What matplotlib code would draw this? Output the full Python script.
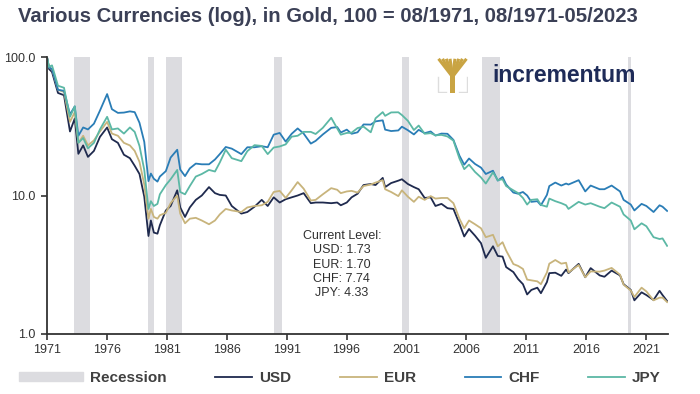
import matplotlib
matplotlib.use("Agg")
import matplotlib.pyplot as plt
from matplotlib.patches import Patch, Rectangle
from matplotlib.lines import Line2D
from matplotlib.legend_handler import HandlerPatch

plt.rcParams['font.family'] = ['Liberation Sans', 'DejaVu Sans']

# time axis in decimal years (08/1971 .. 05/2023)
years = [1971.58, 1971.75, 1972.0, 1972.5, 1973.0, 1973.5, 1973.9, 1974.2, 1974.6, 1975.0,
         1975.5, 1976.0, 1976.6, 1977.0, 1977.5, 1978.0, 1978.5, 1978.9, 1979.3, 1979.7,
         1980.05, 1980.25, 1980.5, 1980.8, 1981.0, 1981.5, 1981.9, 1982.45, 1982.7, 1983.1,
         1983.5, 1984.0, 1984.5, 1985.1, 1985.6, 1986.0, 1986.5, 1987.0, 1987.8, 1988.3,
         1988.9, 1989.5, 1990.0, 1990.5, 1991.0, 1991.5, 1992.0, 1992.5, 1993.0, 1993.6,
         1994.0, 1994.6, 1995.3, 1995.8, 1996.1, 1996.6, 1997.0, 1997.5, 1998.0, 1998.6,
         1999.0, 1999.6, 1999.8, 2000.3, 2000.9, 2001.2, 2001.7, 2002.2, 2002.6, 2003.1,
         2003.6, 2004.0, 2004.5, 2005.0, 2005.5, 2006.0, 2006.4, 2006.8, 2007.3, 2007.8,
         2008.2, 2008.8, 2009.2, 2009.6, 2009.9, 2010.5, 2010.9, 2011.3, 2011.65, 2012.0,
         2012.5, 2012.8, 2013.3, 2013.5, 2014.0, 2014.5, 2014.9, 2015.1, 2015.95, 2016.5,
         2016.95, 2017.7, 2018.1, 2018.7, 2019.4, 2019.7, 2020.3, 2020.6, 2021.2, 2021.6,
         2022.2, 2022.7, 2022.95, 2023.33]

usd = [100, 82, 78, 55, 53, 29, 36, 20, 23, 19,
       21, 26.5, 31, 25.5, 24, 19.7, 18.6, 16.4, 14.3, 9.8,
       5.1, 6.6, 5.4, 5.3, 6.1, 7.8, 8.4, 10.9, 8.2, 7.0,
       8.2, 9.3, 10.0, 11.5, 10.4, 10.1, 10.0, 8.4, 7.4, 7.6,
       8.3, 9.3, 8.4, 9.7, 8.9, 9.4, 9.7, 10.0, 10.4, 8.8,
       8.9, 8.9, 8.8, 8.9, 8.5, 8.9, 9.7, 10.3, 11.9, 12.1,
       11.9, 13.4, 11.5, 12.3, 12.8, 13.1, 12.1, 11.5, 11.1, 9.6,
       9.7, 8.4, 8.7, 8.1, 8.0, 6.25, 5.06, 5.73, 5.13, 4.53,
       3.55, 4.3, 3.66, 3.62, 3.04, 2.8, 2.49, 2.29, 1.93, 2.08,
       2.16, 1.97, 2.37, 2.75, 2.77, 2.63, 2.92, 2.75, 3.21, 2.57,
       2.99, 2.65, 2.59, 2.87, 2.65, 2.29, 2.08, 1.75, 2.0, 1.91,
       1.76, 2.05, 1.91, 1.73]

eur = [100, 84, 82, 58, 56, 34, 40, 24, 27, 23,
       25, 29, 34, 28, 27, 24, 23, 21, 17.5, 12,
       6.8, 8.0, 7.0, 6.8, 7.2, 7.5, 8.8, 10.0, 7.4, 6.3,
       6.8, 6.9, 6.6, 6.2, 6.6, 7.3, 8.0, 7.8, 7.6, 8.2,
       8.4, 8.5, 9.0, 10.6, 10.8, 9.6, 10.9, 12.5, 11.2, 9.2,
       9.3, 10.2, 11.3, 11.0, 10.4, 10.7, 10.8, 10.5, 11.7, 12.0,
       12.4, 12.9, 11.1, 10.6, 9.9, 10.9, 9.8, 9.0, 9.8, 9.3,
       9.9, 9.5, 9.6, 9.6, 8.8, 6.8, 5.8, 6.6, 6.2, 5.8,
       5.0, 5.2, 4.3, 4.6, 4.0, 3.2, 3.1, 2.95, 2.47, 2.44,
       2.4, 2.29, 2.78, 3.22, 3.42, 3.22, 3.27, 2.78, 3.15, 2.57,
       2.83, 2.82, 2.87, 3.0, 2.68, 2.27, 2.06, 1.85, 2.16, 2.03,
       1.75, 1.83, 1.83, 1.70]

chf = [100, 84, 82, 58, 57, 38.5, 44, 27, 31, 30,
       33, 41, 54, 42, 39.5, 39.7, 40.5, 40, 33.5, 24.4,
       12.7, 14.4, 13.2, 12.6, 13.7, 15, 18.8, 21.4, 15.4, 13.8,
       15.7, 17, 16.8, 16.8, 18.2, 19.9, 22.4, 21.8, 19.9, 22.3,
       22.3, 22.7, 22.3, 27.5, 28.3, 24.5, 27.9, 30.5, 28, 23.7,
       24.8, 27.6, 30.8, 31.2, 28.5, 29.9, 27.9, 28.6, 32.6, 32.5,
       34.3, 34.9, 29.9, 29.2, 29.5, 31.4, 29.6, 27.6, 29.8, 28.2,
       29, 27.1, 28, 27.9, 25.2, 19.4, 16.7, 18.5, 16.9, 15.9,
       14.3, 15.1, 12.8, 13.6, 12, 10.5, 10.3, 10.6, 10.0, 9.0,
       9.1, 8.5, 10.1, 11.7, 12.4, 11.8, 12.2, 12.0, 12.9, 10.7,
       11.8, 11.1, 11.1, 11.8, 10.7, 9.3, 8.6, 7.8, 8.7, 8.4,
       7.6, 8.5, 8.3, 7.74]

jpy = [100, 85, 87, 62, 60, 37, 44, 24, 26, 21.9,
       24, 30, 37, 30, 30.5, 28, 31, 28.8, 22.8, 15.3,
       8.0, 9.1, 8.4, 8.7, 10.2, 11.9, 13.1, 15.3, 10.6, 10.2,
       11.7, 13.7, 14.3, 15.3, 14.9, 17.3, 21.4, 18.6, 17.7, 20.9,
       23.1, 22.8, 19.9, 22.2, 22.6, 23.4, 26.6, 27, 28.8, 28.8,
       27.8, 30.8, 36.4, 30.5, 27.5, 28.3, 28.4, 30.7, 31.4, 28.6,
       36.1, 40, 37.6, 39.8, 39.9, 38.1, 34.6, 29.7, 32, 27.9,
       28.2, 27.2, 27.4, 26.7, 24.9, 18.5, 15.5, 16.7, 14.8, 13.5,
       12.2, 14.7, 12.9, 13.1, 11.7, 10.9, 10.4, 9.6, 8.6, 9.3,
       9.4, 8.55, 8.3, 9.5, 9.1, 8.8, 8.5, 8.0, 9.0, 8.6,
       8.8, 8.3, 8.1, 8.9, 8.3, 7.3, 6.6, 5.7, 6.3, 6.0,
       5.0, 4.85, 4.9, 4.33]

# US recessions (start, end)
rec_start = [1973.83, 1980.0, 1981.5, 1990.5, 2001.17, 2007.92, 2020.08]
rec_end = [1975.17, 1980.5, 1982.83, 1991.17, 2001.83, 2009.42, 2020.33]

tick_years = [1971, 1976, 1981, 1986, 1991, 1996, 2001, 2006, 2011, 2016, 2021]

series = [("USD", usd, "#1f2a4e"), ("EUR", eur, "#c8b47c"),
          ("CHF", chf, "#2a7db6"), ("JPY", jpy, "#5cb8a5")]

rec_col = "#dcdce0"

fig = plt.figure(figsize=(7.0, 3.94), dpi=100)
ax = fig.add_axes([0.0671, 0.1523, 0.8871, 0.7030])

for s, e in zip(rec_start, rec_end):
    ax.axvspan(s, e, color=rec_col, lw=0, zorder=0)

for name, vals, col in series:
    ax.plot(years, vals, color=col, lw=1.3, zorder=2)

ax.set_yscale("log")
ax.set_ylim(1, 100)
ax.set_xlim(1971.58, 2023.4)
ax.set_yticks([1, 10, 100])
ax.set_yticklabels(["1.0", "10.0", "100.0"])
ax.minorticks_off()
ax.set_xticks([y + 0.58 for y in tick_years])
ax.set_xticklabels([str(y) for y in tick_years])
ax.tick_params(axis="both", labelsize=9, colors="#333333", length=4, width=1.2)
ax.tick_params(axis="y", pad=4)
for sp in ["top", "right"]:
    ax.spines[sp].set_visible(False)
for sp in ["left", "bottom"]:
    ax.spines[sp].set_color("#333333")
    ax.spines[sp].set_linewidth(1.3)

fig.text(18 / 700, 1 - 17 / 394, "Various Currencies (log), in Gold, 100 = 08/1971, 08/1971-05/2023",
         fontsize=14.6, fontweight="bold", color="#3b4056", va="center", ha="left")

ax.text(0.475, 0.25, "Current Level:\nUSD: 1.73\nEUR: 1.70\nCHF: 7.74\nJPY: 4.33",
        transform=ax.transAxes, ha="center", va="center", fontsize=9,
        color="#303030", linespacing=1.25)

# logo
fig.text(492 / 700, 1 - 75 / 394, "incrementum", fontsize=16.5, fontweight="bold",
         color="#1e2b58", ha="left", va="center")
lax = fig.add_axes([437 / 700, 1 - 93 / 394, 31 / 700, 36 / 394])
lax.set_xlim(0, 1)
lax.set_ylim(0, 1)
lax.axis("off")
gold = "#c9a443"
lax.add_patch(Rectangle((0.42, 0.0), 0.16, 0.55, color=gold, lw=0))
for dx in [-0.45, -0.32, -0.2, -0.08, 0.08, 0.2, 0.32, 0.45]:
    lax.plot([0.5, 0.5 + dx], [0.45, 0.95], color=gold, lw=2.2, solid_capstyle="butt")
lax.plot([0.02, 0.02, 0.3], [0.45, 0.02, 0.02], color="#dddddd", lw=1)
lax.plot([0.98, 0.98, 0.7], [0.45, 0.02, 0.02], color="#dddddd", lw=1)

# legend
handles = [Patch(color=rec_col, label="Recession")]
handles += [Line2D([], [], color=c, lw=1.3, label=n) for n, v, c in series]


def wide_patch(legend, orig_handle, xdescent, ydescent, width, height, fontsize):
    return Rectangle((-xdescent - 0.75 * width, -ydescent + 0.1 * height), 1.75 * width, 0.8 * height)


leg = fig.legend(handles=handles, loc="center", bbox_to_anchor=(0.505, 1 - 378 / 394), ncol=5,
                 frameon=False, handlelength=2.4, handletextpad=0.45, columnspacing=3.2,
                 prop={"size": 11, "weight": "bold"},
                 handler_map={Patch: HandlerPatch(patch_func=wide_patch)})
for t in leg.get_texts():
    t.set_color("#404040")

fig.savefig("out.png", dpi=100)
